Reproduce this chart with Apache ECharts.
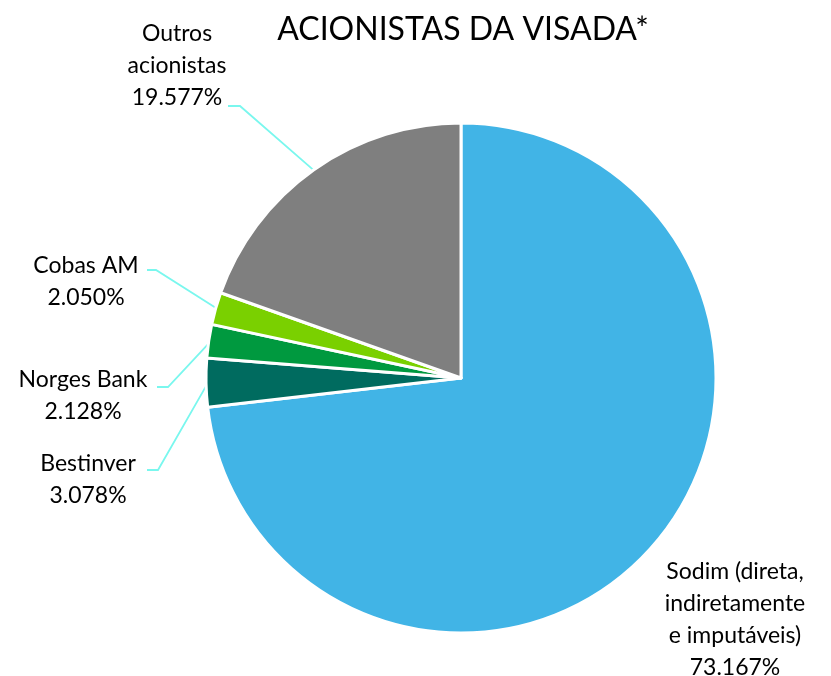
<!DOCTYPE html>
<html>
<head>
<meta charset="utf-8">
<script src="https://cdn.jsdelivr.net/npm/echarts@6/dist/echarts.min.js"></script>
<style>
  html, body { margin: 0; padding: 0; background: #fff; }
  #chart { width: 831px; height: 676px; }
</style>
</head>
<body>
<div id="chart"></div>
<script>
// dados
const names = ['Sodim (direta,\nindiretamente\ne imputáveis)', 'Bestinver', 'Norges Bank', 'Cobas AM', 'Outros\nacionistas'];
const values = [73.167, 3.078, 2.128, 2.05, 19.577];
const colors = ['#41B4E6', '#006B5F', '#00993F', '#7AD000', '#7F7F7F'];

// posição das etiquetas (centro do bloco) e cotovelo da linha guia
const labelPos = [[735, 620], [88, 480], [83, 396], [86, 282], [177, 66]];
const elbows = [null, [[158, 470], [147, 470]], [[168, 387], [157, 387]], [[156, 270], [147, 270]], [[240, 106], [228, 106]]];

const cx = 461, cy = 378, R = 255;
const total = values.reduce((a, b) => a + b, 0);

// ângulo médio de cada fatia (sentido horário a partir do topo)
function midAngle(i) {
  let acc = 0;
  for (let k = 0; k < i; k++) acc += values[k];
  return ((acc + values[i] / 2) / total) * Math.PI * 2;
}

const chart = echarts.init(document.getElementById('chart'));
chart.setOption({
  animation: false,
  title: {
    text: 'ACIONISTAS DA VISADA*',
    left: 458,
    top: 9,
    textAlign: 'center',
    textStyle: { fontFamily: 'Lato', fontSize: 32, fontWeight: 'normal', color: '#000' },
  },
  series: [
    {
      type: 'pie',
      center: [cx, cy],
      radius: [0, R],
      startAngle: 90,
      clockwise: true,
      avoidLabelOverlap: false,
      itemStyle: { borderColor: '#fff', borderWidth: 3 },
      label: {
        show: true,
        position: 'outside',
        fontFamily: 'Lato',
        fontSize: 23,
        lineHeight: 32,
        color: '#000',
        align: 'center',
        formatter: (p) => p.name + '\n' + p.value.toFixed(3) + '%',
      },
      labelLine: { show: true, lineStyle: { color: '#7AF7EE', width: 1.8 } },
      labelLayout: (p) => {
        const i = p.dataIndex;
        const a = midAngle(i);
        const start = [cx + Math.sin(a) * (R - 2), cy - Math.cos(a) * (R - 2)];
        const res = {
          x: labelPos[i][0],
          y: labelPos[i][1],
          align: 'center',
          verticalAlign: 'middle',
        };
        if (elbows[i]) res.labelLinePoints = [start, elbows[i][0], elbows[i][1]];
        return res;
      },
      data: names.map((n, i) => ({
        name: n,
        value: values[i],
        itemStyle: { color: colors[i] },
        labelLine: { show: !!elbows[i] },
      })),
    },
  ],
});
</script>
</body>
</html>
